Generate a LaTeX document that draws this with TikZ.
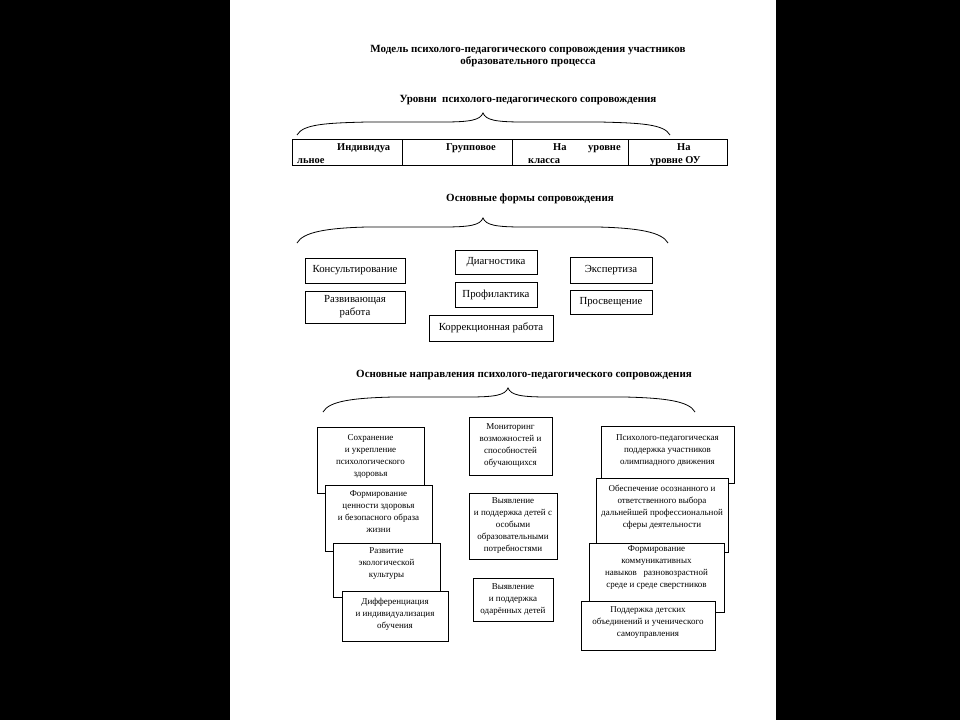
\documentclass[tikz,border=0pt]{standalone}
\usepackage{fontspec}
\setmainfont{Liberation Serif}
\usetikzlibrary{calc}

\tikzset{
  frame/.style={draw, line width=1pt, inner sep=0pt},
  wh/.style 2 args={minimum width=#1pt, minimum height=#2pt},
  formbox/.style={frame, fill=white, align=center, font=\fontsize{10.8}{13}\selectfont},
  dirbox/.style={frame, fill=white},
  dirtext/.style={align=center, inner sep=0pt, font=\fontsize{9}{12}\selectfont},
  heading/.style={align=center, inner sep=0pt, font=\bfseries\fontsize{11}{12}\selectfont},
  celltext/.style={anchor=base west, inner sep=0pt, font=\bfseries\fontsize{10.5}{12}\selectfont},
  brace/.style={line width=0.8pt}
}

% left x, tip x, right x, end y, tip y
\newcommand{\wavebrace}[5]{%
  \draw[brace] (#1,#4) .. controls (#1+6,#4-11) and (#1+30,#5+10) .. (#1+70,#5+9)
    -- (#2-40,#5+9) .. controls (#2-12,#5+9) and (#2-3,#5+7) .. (#2,#5)
    .. controls (#2+3,#5+7) and (#2+12,#5+9) .. (#2+40,#5+9)
    -- (#3-70,#5+9) .. controls (#3-30,#5+10) and (#3-6,#4-11) .. (#3,#4);}

\begin{document}
\begin{tikzpicture}[x=1pt, y=-1pt]
  \useasboundingbox (0,0) rectangle (960,720);
  \fill[black] (0,0) rectangle (960,720);
  \fill[white] (230,0) rectangle (776,720);

  \node[heading] (title) at (528,56.5)
    {Модель психолого-педагогического сопровождения участников\\образовательного процесса};

  % levels
  \node[heading, anchor=base] (levels) at (528,102.5) {Уровни\ \ психолого-педагогического сопровождения};
  \wavebrace{297}{483}{670}{135}{113}

  \node[frame, wh={110}{26}] (indiv) at (347,152) {};
  \node[frame, wh={110}{26}] (group) at (457,152) {};
  \node[frame, wh={116}{26}] (klass) at (570,152) {};
  \node[frame, wh={99}{26}]  (ou)    at (677.5,152) {};
  \node[celltext] (indiv-a) at (337,150.5) {Индивидуа};
  \node[celltext] (indiv-b) at (297,163) {льное};
  \node[celltext] (group-a) at (446,150.5) {Групповое};
  \node[celltext] (klass-a) at (553,150.5) {На};
  \node[celltext] (klass-b) at (588,150.5) {уровне};
  \node[celltext] (klass-c) at (528,163) {класса};
  \node[celltext] (ou-a)    at (677,150.5) {На};
  \node[celltext] (ou-b)    at (650,163) {уровне ОУ};

  % forms
  \node[heading, anchor=base] (forms) at (530,201) {Основные формы сопровождения};
  \wavebrace{297}{483}{668}{243}{218}

  \node[formbox, wh={100}{25}] (konsult) at (355,270.5) {Консультирование};
  \node[formbox, wh={100}{32}] (razv)    at (355,307) {Развивающая\\работа};
  \node[formbox, wh={82}{24}]  (diagn)   at (496,262) {Диагностика};
  \node[formbox, wh={82}{25}]  (profil)  at (496,294.5) {Профилактика};
  \node[formbox, wh={124}{26}] (korr)    at (491,328) {Коррекционная работа};
  \node[formbox, wh={82}{26}]  (expert)  at (611,270) {Экспертиза};
  \node[formbox, wh={82}{24}]  (prosv)   at (611,302) {Просвещение};

  % directions
  \node[heading, anchor=base] (dirs) at (524,377.5) {Основные направления психолого-педагогического сопровождения};
  \wavebrace{323}{508}{695}{412}{388}

  \node[dirbox, wh={107}{66}] (sohr) at (370.5,460) {};
  \node[dirtext] (sohr-t) at ($(sohr)+(0,-4)$) {Сохранение\\и укрепление\\психологического\\здоровья};
  \node[dirbox, wh={107}{66}] (cenn) at (378.5,518) {};
  \node[dirtext] (cenn-t) at ($(cenn)+(0,-6)$) {Формирование\\ценности здоровья\\и безопасного образа\\жизни};
  \node[dirbox, wh={107}{54}] (ekol) at (386.5,570) {};
  \node[dirtext] (ekol-t) at ($(ekol)+(0,-6)$) {Развитие\\экологической\\культуры};
  \node[dirbox, wh={106}{50}] (diff) at (395,616) {};
  \node[dirtext] (diff-t) at ($(diff)+(0,-2)$) {Дифференциация\\и индивидуализация\\обучения};

  \node[dirbox, wh={83}{58}] (monit) at (510.5,446) {};
  \node[dirtext] (monit-t) at (monit) {Мониторинг\\возможностей и\\способностей\\обучающихся};
  \node[dirbox, wh={88}{66}] (osob) at (513,526) {};
  \node[dirtext] (osob-t) at (osob) {Выявление\\и поддержка детей с\\особыми\\образовательными\\потребностями};
  \node[dirbox, wh={80}{43}] (odar) at (513,599.5) {};
  \node[dirtext] (odar-t) at (odar) {Выявление\\и поддержка\\одарённых детей};

  \node[dirbox, wh={133}{57}] (olimp) at (667.5,454.5) {};
  \node[dirtext] (olimp-t) at ($(olimp)+(0,-4)$) {Психолого-педагогическая\\поддержка участников\\олимпиадного движения};
  \node[dirbox, wh={132}{74}] (vybor) at (662,515) {};
  \node[dirtext] (vybor-t) at ($(vybor)+(0,-8)$) {Обеспечение осознанного и\\ответственного выбора\\дальнейшей профессиональной\\сферы деятельности};
  \node[dirbox, wh={135}{69}] (komm) at (656.5,577.5) {};
  \node[dirtext] (komm-t) at ($(komm)+(0,-10)$) {Формирование\\коммуникативных\\навыков\ \ \ разновозрастной\\среде и среде сверстников};
  \node[dirbox, wh={134}{49}] (samo) at (648,625.5) {};
  \node[dirtext] (samo-t) at ($(samo)+(0,-3)$) {Поддержка детских\\объединений и ученического\\самоуправления};
\end{tikzpicture}
\end{document}
